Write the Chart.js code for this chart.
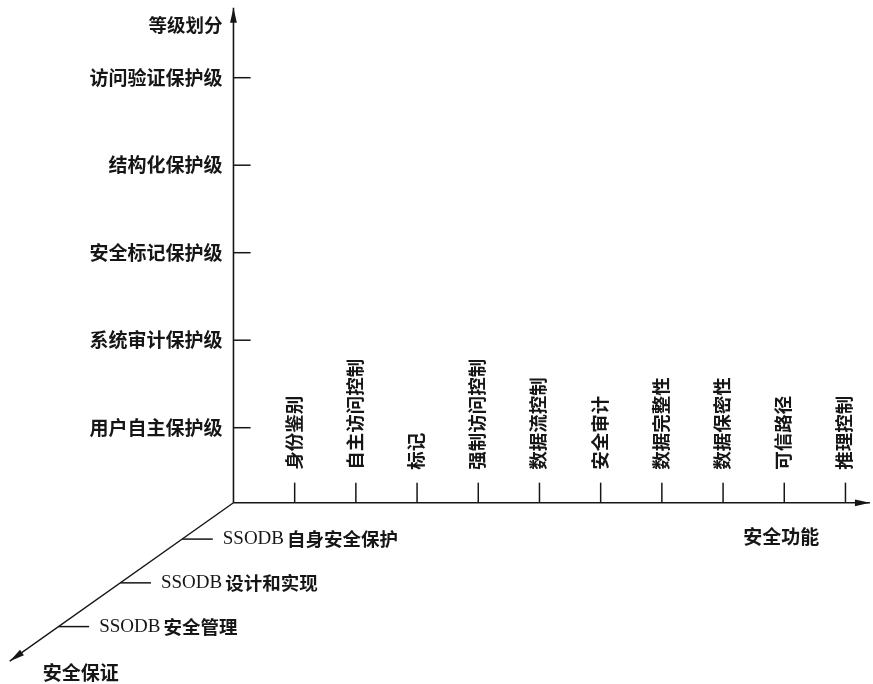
<!DOCTYPE html>
<html>
<head>
<meta charset="utf-8">
<script src="https://cdn.jsdelivr.net/npm/chart.js@4.4.1/dist/chart.umd.min.js"></script>
<style>
  html, body { margin: 0; padding: 0; background: #fff; }
  #wrap { width: 873px; height: 684px; position: relative; }
</style>
</head>
<body>
<div id="wrap"><canvas id="chart"></canvas></div>
<script>
// ================= DATA =================
const levelTitle = "等级划分";
const levels = ["用户自主保护级", "系统审计保护级", "安全标记保护级", "结构化保护级", "访问验证保护级"];

const functionTitle = "安全功能";
const functions = ["身份鉴别", "自主访问控制", "标记", "强制访问控制", "数据流控制",
  "安全审计", "数据完整性", "数据保密性", "可信路径", "推理控制"];

const assuranceTitle = "安全保证";
const assurances = ["SSODB自身安全保护", "SSODB设计和实现", "SSODB安全管理"];


// ================= LAYOUT (data units) =================
const X_RANGE = [-3.815, 10.45];
const Y_RANGE = [-1.929, 5.888];
const ORIGIN = { x: 0, y: 0.142 };
const X_END = 10.40;                       // end of function axis
const Y_END = 5.80;                        // end of level axis
const DEPTH_DIR = { x: -1.01, y: -0.5 };   // one assurance step
const DEPTH_START = 0.83;
const DEPTH_END = 3.62;
const INK = "#161616";
const CJK = '"Noto Sans CJK SC", sans-serif';
const LATIN = '"Liberation Serif", serif';


// ================= HELPERS =================
function depthPoint(d) {
  return { x: ORIGIN.x + DEPTH_DIR.x * d, y: ORIGIN.y + DEPTH_DIR.y * d };
}

function segment(a, b, width = 1.5) {
  return {
    data: [a, b],
    showLine: true,
    borderColor: INK,
    borderWidth: width,
    pointRadius: 0,
    fill: false
  };
}


// ================= DATASETS =================
const datasets = [
  segment(ORIGIN, { x: ORIGIN.x, y: Y_END }, 1.6),
  segment(ORIGIN, { x: X_END, y: ORIGIN.y }, 1.6),
  segment(ORIGIN, depthPoint(DEPTH_END), 1.4),

  ...levels.map((_, i) => segment({ x: 0, y: i + 1 }, { x: 0.28, y: i + 1 })),

  ...functions.map((_, i) =>
    segment({ x: i + 1, y: ORIGIN.y }, { x: i + 1, y: ORIGIN.y + 0.23 })),

  ...assurances.map((_, i) => {
    const p = depthPoint(DEPTH_START + i);
    return segment(p, { x: p.x + 0.5, y: p.y });
  })
];


// ================= ARROWS + LABELS =================
function arrowHead(ctx, tip, dx, dy) {
  const len = Math.hypot(dx, dy);
  const ux = dx / len, uy = dy / len;
  const L = 15, W = 3.4;
  ctx.beginPath();
  ctx.moveTo(tip.x, tip.y);
  ctx.lineTo(tip.x - ux * L - uy * W, tip.y - uy * L + ux * W);
  ctx.lineTo(tip.x - ux * L + uy * W, tip.y - uy * L - ux * W);
  ctx.closePath();
  ctx.fill();
}

// latin prefix in plain serif, chinese part in bold sans
function mixedText(ctx, text, x, y) {
  const m = text.match(/^([A-Za-z]+)(.*)$/);
  let cx = x;
  if (m) {
    ctx.font = "19px " + LATIN;
    ctx.fillText(m[1], cx, y);
    cx += ctx.measureText(m[1]).width + 3;
    text = m[2];
  }
  ctx.font = "bold 18.5px " + CJK;
  ctx.fillText(text, cx, y);
}

const labelPlugin = {
  id: "axisLabels",
  afterDatasetsDraw(chart) {
    const { ctx, scales: { x, y } } = chart;
    const px = p => ({ x: x.getPixelForValue(p.x), y: y.getPixelForValue(p.y) });

    const o = px(ORIGIN);
    const top = px({ x: ORIGIN.x, y: Y_END });
    const right = px({ x: X_END, y: ORIGIN.y });
    const tip = px(depthPoint(DEPTH_END));

    ctx.save();
    ctx.fillStyle = INK;

    // arrows
    arrowHead(ctx, top, 0, top.y - o.y);
    arrowHead(ctx, right, right.x - o.x, 0);
    arrowHead(ctx, tip, tip.x - o.x, tip.y - o.y);

    // level axis
    ctx.font = "bold 19px " + CJK;
    ctx.textAlign = "right";
    ctx.textBaseline = "middle";
    levels.forEach((t, i) => {
      ctx.fillText(t, o.x - 11, y.getPixelForValue(i + 1));
    });
    ctx.font = "bold 18.5px " + CJK;
    ctx.fillText(levelTitle, o.x - 11, top.y + 17);

    // function axis (vertical text)
    ctx.font = "bold 18.5px " + CJK;
    ctx.textAlign = "left";
    functions.forEach((t, i) => {
      ctx.save();
      ctx.translate(x.getPixelForValue(i + 1) - 1, o.y - 33);
      ctx.rotate(-Math.PI / 2);
      ctx.fillText(t, 0, 0);
      ctx.restore();
    });
    ctx.font = "bold 19px " + CJK;
    ctx.textAlign = "center";
    ctx.fillText(functionTitle, x.getPixelForValue(9) - 3, o.y + 34);

    // assurance axis
    ctx.textAlign = "left";
    assurances.forEach((t, i) => {
      const p = depthPoint(DEPTH_START + i);
      const end = px({ x: p.x + 0.5, y: p.y });
      mixedText(ctx, t, end.x + 10, end.y);
    });
    ctx.font = "bold 19px " + CJK;
    ctx.fillText(assuranceTitle, tip.x + 33, tip.y + 12);

    ctx.restore();
  }
};


// ================= CHART =================
new Chart(document.getElementById("chart"), {
  type: "scatter",
  data: { datasets },
  options: {
    responsive: true,
    maintainAspectRatio: false,
    animation: false,
    events: [],
    layout: { padding: 0 },
    plugins: {
      legend: { display: false },
      tooltip: { enabled: false }
    },
    scales: {
      x: { type: "linear", min: X_RANGE[0], max: X_RANGE[1], display: false },
      y: { type: "linear", min: Y_RANGE[0], max: Y_RANGE[1], display: false }
    }
  },
  plugins: [labelPlugin]
});
</script>
</body>
</html>
